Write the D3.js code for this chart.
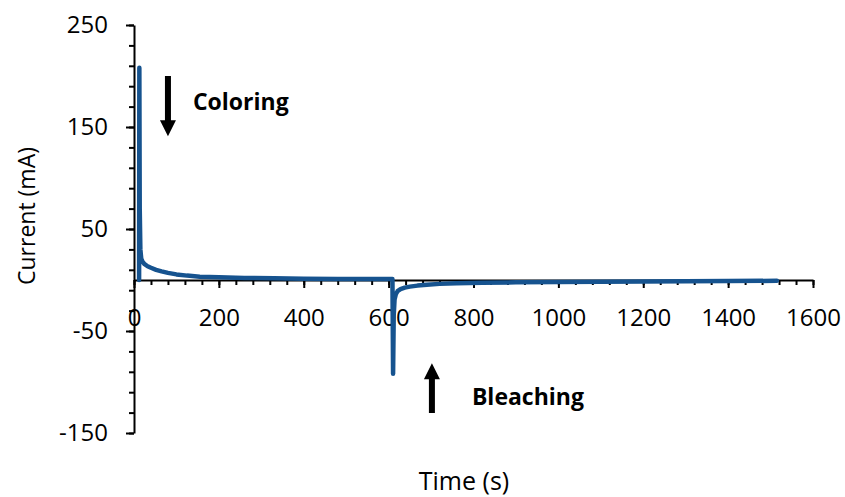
<!DOCTYPE html>
<html>
<head>
<meta charset="utf-8">
<script src="https://cdn.jsdelivr.net/npm/d3@7"></script>
<style>
  html, body { margin: 0; padding: 0; background: #fff; }
  svg text { font-family: "Open Sans", "Liberation Sans", sans-serif; fill: #000; }
</style>
</head>
<body>
<svg id="chart" width="845" height="497"></svg>
<script>
// Chronoamperometry trace: coloring step then bleaching step
const timeS = [12, 12.6, 13.5, 15, 17, 20, 25, 32, 40, 52, 65, 80, 100, 125, 155, 200, 260, 330, 400, 480, 560, 609,
               610.5, 612, 614, 617, 621, 628, 638, 650, 668, 690, 720, 760, 820, 900, 1000, 1100, 1200, 1300, 1400, 1515];
const currentMA = [0, 208, 70, 30, 21, 18, 15.5, 13.5, 12, 10, 8.5, 7, 5.5, 4.3, 3.3, 2.6, 2.0, 1.6, 1.3, 1.1, 1.0, 0.9,
                   -92, -35, -19, -14, -11, -9, -7.5, -6.5, -5.5, -4.6, -3.8, -3.2, -2.7, -2.3, -2.0, -1.7, -1.4, -1.2, -1.0, -0.8];

const xMajorTicks = [0, 200, 400, 600, 800, 1000, 1200, 1400, 1600];
const yMajorTicks = [-150, -50, 50, 150, 250];
const xMinorStep = 40;
const yMinorStep = 20;

const xTitle = "Time (s)";
const yTitle = "Current (mA)";

// Annotation arrows: time position, tail/tip current values, label
const annotations = [
  { label: "Coloring", t: 80, from: 200, to: 141 },
  { label: "Bleaching", t: 702, from: -130.5, to: -81.5 }
];

const svg = d3.select("#chart");
const x = d3.scaleLinear().domain([0, 1600]).range([134, 813]);
const y = d3.scaleLinear().domain([-150, 250]).range([433, 25]);

const lineColor = "#16538f";
const fontSize = 24;
const plainNumber = d => String(d);

// X axis (crosses at zero current)
const xMinor = d3.range(0, 1600 + 1, xMinorStep);
svg.append("g")
  .attr("transform", `translate(0,${y(0)})`)
  .call(d3.axisBottom(x).tickValues(xMinor).tickSize(5).tickFormat(""))
  .call(g => g.select(".domain").remove())
  .call(g => g.selectAll("line").attr("stroke", "#000").attr("stroke-width", 2));

const gx = svg.append("g")
  .attr("transform", `translate(0,${y(0)})`)
  .call(d3.axisBottom(x).tickValues(xMajorTicks).tickSize(8).tickSizeOuter(0).tickFormat(plainNumber));
gx.select(".domain").attr("stroke", "#000").attr("stroke-width", 2);
gx.selectAll("line").attr("stroke", "#000").attr("stroke-width", 2);
gx.selectAll("text").attr("y", 46).attr("dy", null)
  .style("font-size", fontSize + "px").style("font-family", "'Open Sans', sans-serif");

// Y axis
const yMinor = d3.range(-150, 250 + 1, yMinorStep);
svg.append("g")
  .attr("transform", `translate(${x(0)},0)`)
  .call(d3.axisLeft(y).tickValues(yMinor).tickSize(5).tickFormat(""))
  .call(g => g.select(".domain").remove())
  .call(g => g.selectAll("line").attr("stroke", "#000").attr("stroke-width", 2));

const gy = svg.append("g")
  .attr("transform", `translate(${x(0)},0)`)
  .call(d3.axisLeft(y).tickValues(yMajorTicks).tickSize(8).tickSizeOuter(0).tickPadding(18).tickFormat(plainNumber));
gy.select(".domain").attr("stroke", "#000").attr("stroke-width", 2);
gy.selectAll("line").attr("stroke", "#000").attr("stroke-width", 2);
gy.selectAll("text").style("font-size", fontSize + "px").style("font-family", "'Open Sans', sans-serif");

// Axis titles
svg.append("text")
  .attr("x", 464).attr("y", 490)
  .attr("text-anchor", "middle")
  .style("font-size", "25px")
  .text(xTitle);

svg.append("text")
  .attr("transform", "translate(35,216) rotate(-90)")
  .attr("text-anchor", "middle")
  .style("font-size", "23px")
  .text(yTitle);

// Current trace
const line = d3.line().x((d, i) => x(timeS[i])).y(d => y(d));
svg.append("path")
  .datum(currentMA)
  .attr("d", line)
  .attr("fill", "none")
  .attr("stroke", lineColor)
  .attr("stroke-width", 4.5)
  .attr("stroke-linejoin", "round")
  .attr("stroke-linecap", "round");

// Arrows with labels
const headLen = 16, headHalf = 8, shaftHalf = 3;
annotations.forEach(a => {
  const cx = x(a.t), y0 = y(a.from), y1 = y(a.to);
  const dir = Math.sign(y1 - y0);
  const yb = y1 - dir * headLen;
  const p = d3.path();
  p.moveTo(cx - shaftHalf, y0);
  p.lineTo(cx + shaftHalf, y0);
  p.lineTo(cx + shaftHalf, yb);
  p.lineTo(cx + headHalf, yb);
  p.lineTo(cx, y1);
  p.lineTo(cx - headHalf, yb);
  p.lineTo(cx - shaftHalf, yb);
  p.closePath();
  svg.append("path").attr("d", p.toString()).attr("fill", "#000");

  const ty = a.label === "Coloring" ? 110 : 405;
  svg.append("text")
    .attr("x", cx + (a.label === "Coloring" ? 25 : 40))
    .attr("y", ty)
    .style("font-size", "23px")
    .style("font-weight", "bold")
    .text(a.label);
});
</script>
</body>
</html>
